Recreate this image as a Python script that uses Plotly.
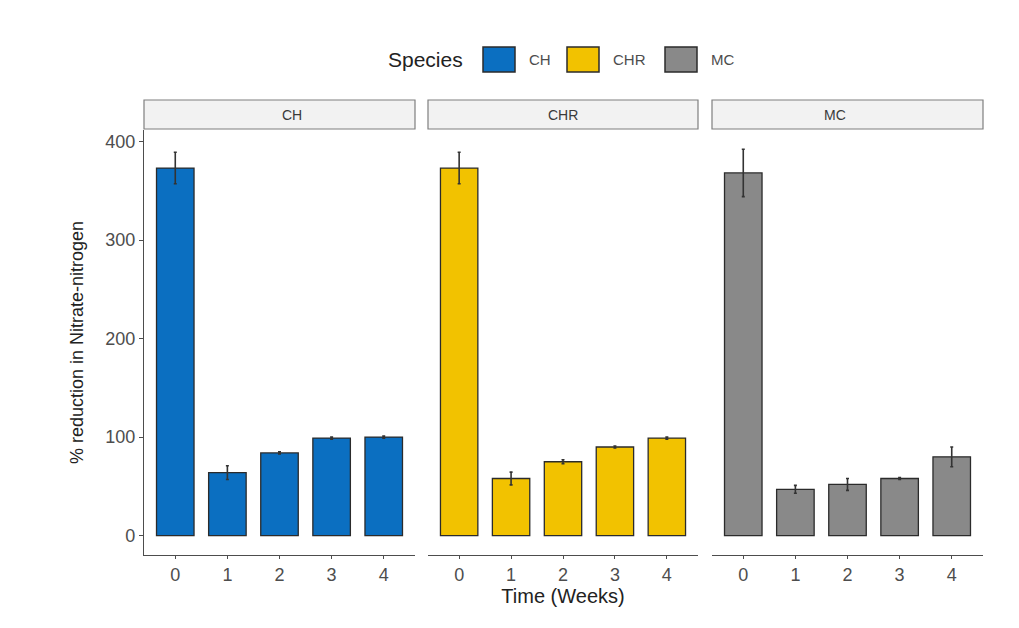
import plotly.graph_objects as go

species = ["CH", "CHR", "MC"]
weeks = [0, 1, 2, 3, 4]
ch_mean = [373, 64, 84, 99, 100]
ch_se = [16, 7, 1, 1, 1]
chr_mean = [373, 58, 75, 90, 99]
chr_se = [16, 6.5, 2, 1, 1]
mc_mean = [368, 47, 52, 58, 80]
mc_se = [24, 4, 6, 1, 10]
colors = ["#0B6FC1", "#F2C200", "#898989"]
y_ticks = [0, 100, 200, 300, 400]

means = [ch_mean, chr_mean, mc_mean]
ses = [ch_se, chr_se, mc_se]

W, H = 1019, 628
OFF = 8  # page body margin


def px(x):
    return (x - OFF) / W


def py(y):
    return (H - (y - OFF)) / H


x_domains = [(144, 415), (428, 698), (712, 983)]
y_bottom, y_top = 555, 130

fig = go.Figure()
FONT = "Liberation Sans, Arial, sans-serif"
TXT = "#4d4d4d"

for i, sp in enumerate(species):
    xa = "x" if i == 0 else f"x{i+1}"
    ya = "y" if i == 0 else f"y{i+1}"
    fig.add_trace(go.Bar(
        x=weeks, y=means[i], name=sp, xaxis=xa, yaxis=ya, width=0.72,
        marker=dict(color=colors[i], line=dict(color="#2b2b2b", width=1.3)),
        error_y=dict(type="data", array=ses[i], visible=True,
                     color="#333333", thickness=1.6, width=1.5),
        showlegend=False,
    ))
    axkey = "xaxis" if i == 0 else f"xaxis{i+1}"
    aykey = "yaxis" if i == 0 else f"yaxis{i+1}"
    d = x_domains[i]
    fig.layout[axkey] = dict(
        domain=[px(d[0]), px(d[1])], anchor=ya, range=[-0.6, 4.6],
        tickvals=weeks, ticktext=[str(w) for w in weeks],
        showline=True, linecolor="#4d4d4d", linewidth=1.3,
        ticks="outside", ticklen=3, tickcolor="#4d4d4d", tickwidth=1,
        showgrid=False, zeroline=False,
        tickfont=dict(size=18, color=TXT, family=FONT),
    )
    fig.layout[aykey] = dict(
        domain=[py(y_bottom), py(y_top)], anchor=xa, range=[-19.6, 411.6],
        tickvals=y_ticks, showticklabels=(i == 0),
        showline=(i == 0), linecolor="#4d4d4d", linewidth=1.3,
        ticks="outside" if i == 0 else "", ticklen=4, tickcolor="#4d4d4d",
        showgrid=False, zeroline=False,
        tickfont=dict(size=18, color=TXT, family=FONT),
    )
    # facet strip
    fig.add_shape(type="rect", xref="paper", yref="paper",
                  x0=px(d[0]), x1=px(d[1]), y0=py(129), y1=py(100),
                  fillcolor="#F2F2F2", line=dict(color="#7f7f7f", width=1.2))
    fig.add_annotation(xref="paper", yref="paper", x=px((d[0] + d[1]) / 2),
                       y=py(115), yanchor="middle", text=sp, showarrow=False,
                       font=dict(size=14, color="#3a3a3a", family=FONT))

fig.layout.yaxis.title = dict(text="% reduction in Nitrate-nitrogen",
                              font=dict(size=18, color="#222", family=FONT), standoff=16)
fig.layout.xaxis2.title = dict(text="Time (Weeks)",
                               font=dict(size=20, color="#222", family=FONT), standoff=2)

# legend (manual, ggplot-style keys)
fig.add_annotation(xref="paper", yref="paper", x=px(386), y=py(60), xanchor="left",
                   yanchor="middle", text="Species", showarrow=False,
                   font=dict(size=21, color="#222", family=FONT))
key_x = [483, 567, 665]
for i, sp in enumerate(species):
    fig.add_shape(type="rect", xref="paper", yref="paper",
                  x0=px(key_x[i]), x1=px(key_x[i] + 32), y0=py(72), y1=py(47),
                  fillcolor=colors[i], line=dict(color="#2b2b2b", width=1.5))
    fig.add_annotation(xref="paper", yref="paper", x=px(key_x[i] + 44), y=py(60),
                       xanchor="left", yanchor="middle", text=sp, showarrow=False,
                       font=dict(size=15, color=TXT, family=FONT))

fig.update_layout(
    width=W, height=H, margin=dict(l=0, r=0, t=0, b=0),
    paper_bgcolor="white", plot_bgcolor="white",
    font=dict(family=FONT), bargap=0.28,
)
fig.write_html("out.html")
